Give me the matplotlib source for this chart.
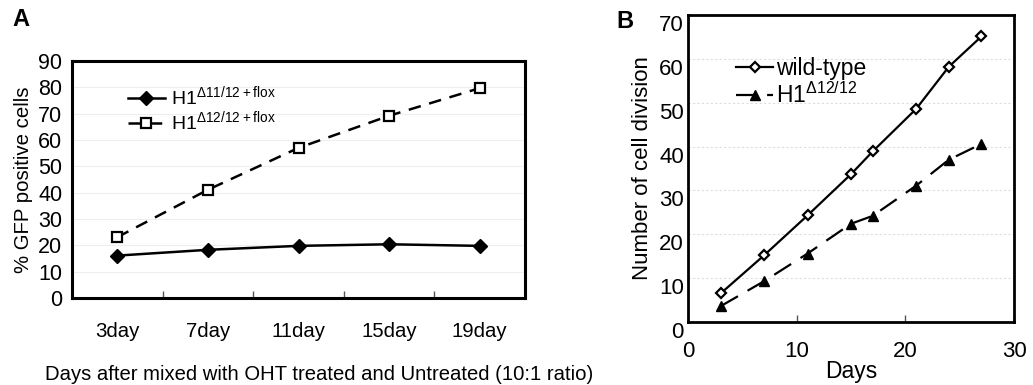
import matplotlib
matplotlib.use("Agg")
import matplotlib.pyplot as plt
from matplotlib.ticker import FixedLocator

plt.rcParams['font.family'] = ['Liberation Sans', 'DejaVu Sans']
plt.rcParams['mathtext.fontset'] = 'custom'
plt.rcParams['mathtext.rm'] = 'Liberation Sans'

# panel A data
day_labels = ['3day', '7day', '11day', '15day', '19day']
gfp_d11 = [16.1, 18.3, 19.8, 20.4, 19.8]
gfp_d12 = [23.1, 41.1, 57.0, 69.2, 79.7]

# panel B data
days = [3, 7, 11, 15, 17, 21, 24, 27]
div_wt = [6.5, 15.2, 24.3, 33.7, 38.9, 48.6, 58.2, 65.1]
div_d12 = [3.6, 9.3, 15.6, 22.4, 24.2, 31.1, 37.0, 40.6]

fig = plt.figure(figsize=(10.33, 3.85), dpi=100)

# ---- panel A
axA = fig.add_axes([72 / 1033, 1 - 298 / 385, 453 / 1033, 237 / 385])
xs = range(len(day_labels))
axA.plot(xs, gfp_d11, color='black', lw=1.8, marker='D', ms=7, mfc='black',
         label=r'H1$^{\mathregular{Δ11/12+flox}}$')
axA.plot(xs, gfp_d12, color='black', lw=1.8, ls=(0, (5, 3.5)), marker='s', ms=6.5,
         mfc='white', mew=1.6, label=r'H1$^{\mathregular{Δ12/12+flox}}$')
axA.set_xlim(-0.5, len(day_labels) - 0.5)
axA.set_ylim(0, 90)
axA.set_yticks(range(0, 91, 10))
axA.set_xticks(list(xs))
axA.set_xticklabels(day_labels)
axA.xaxis.set_minor_locator(FixedLocator([0.5, 1.5, 2.5, 3.5]))
axA.tick_params(axis='x', which='major', length=0, pad=17, labelsize=14.7)
axA.tick_params(axis='x', which='minor', direction='in', length=5, width=1, color='#555555')
axA.tick_params(axis='y', length=0, pad=7, labelsize=15.5)
axA.yaxis.grid(True, color='#eeeeee', lw=0.8)
axA.set_axisbelow(True)
for sp in axA.spines.values():
    sp.set_linewidth(2.2)
axA.set_ylabel('% GFP positive cells', fontsize=14.7, labelpad=4)
axA.legend(loc='upper left', bbox_to_anchor=(0.085, 0.975), frameon=False, fontsize=14,
           handlelength=1.9, handletextpad=0.3, labelspacing=0.0)
fig.text(319 / 1033, 1 - 375 / 385, 'Days after mixed with OHT treated and Untreated (10:1 ratio)',
         ha='center', va='center', fontsize=14.6)
fig.text(12 / 1033, 1 - 19 / 385, 'A', fontsize=17, fontweight='bold', ha='left', va='center')

# ---- panel B
axB = fig.add_axes([688 / 1033, 1 - 322 / 385, 326 / 1033, 307 / 385])
axB.plot(days, div_wt, color='black', lw=1.6, marker='D', ms=5.5, mfc='white', mew=1.6,
         label='wild-type')
axB.plot(days, div_d12, color='black', lw=1.6, ls=(0, (9, 5)), marker='^', ms=7.5,
         mfc='black', label=r'H1$^{\mathregular{Δ12/12}}$')
axB.set_xlim(0, 30)
axB.set_ylim(0, 70)
axB.set_xticks([0, 10, 20, 30])
axB.set_yticks(range(0, 71, 10))
axB.tick_params(axis='x', direction='in', length=5, width=1, color='#555555', pad=14, labelsize=16)
axB.tick_params(axis='y', length=0, pad=3, labelsize=16)
for lbl in axB.get_yticklabels():
    lbl.set_va('top')
axB.yaxis.grid(True, color='#dddddd', lw=0.8, ls=(0, (2, 2)))
axB.set_axisbelow(True)
for sp in axB.spines.values():
    sp.set_linewidth(2.0)
axB.set_ylabel('Number of cell division', fontsize=16, labelpad=4)
axB.set_xlabel('Days', fontsize=16.5, labelpad=-2)
axB.legend(loc='upper left', bbox_to_anchor=(0.085, 0.93), frameon=False, fontsize=16.5,
           handlelength=1.6, handletextpad=0.15, labelspacing=0.1)
fig.text(625 / 1033, 1 - 22 / 385, 'B', fontsize=17, fontweight='bold', ha='center', va='center')

fig.savefig('out.png', dpi=100)
